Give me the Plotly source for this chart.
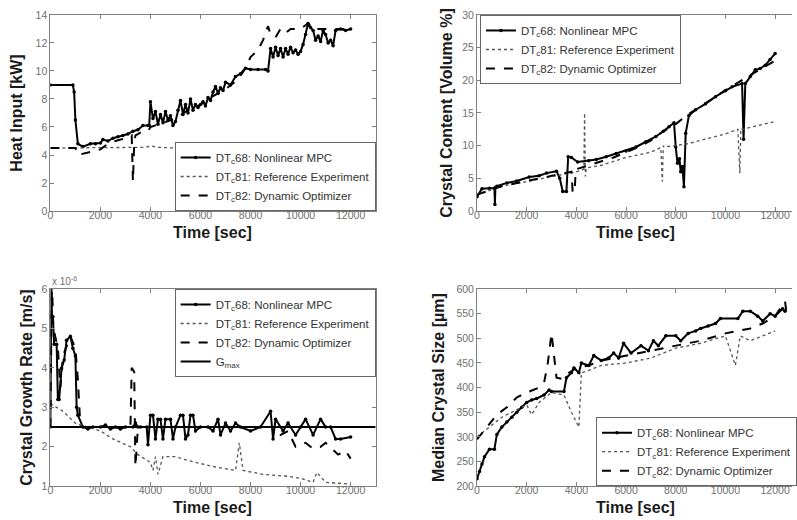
import plotly.graph_objects as go

# ---------------- data ----------------
# Heat input [kW]
hi_mpc_t = [0, 900, 950, 1000, 1100, 1300, 1600, 1800, 2000, 2100, 2300, 2500, 2700, 2900, 3100, 3300, 3500, 3700, 3900,
            3950, 4000, 4100, 4200, 4300, 4400, 4500, 4600, 4700, 4800, 4900, 5000, 5100, 5200, 5300, 5400, 5500, 5600,
            5700, 5800, 5900, 6000, 6100, 6200, 6300, 6400, 6500, 6600, 6700, 6800, 6900, 7000, 7200, 7400, 7600, 7800,
            8000, 8300, 8600, 8700, 8800, 8900, 9000, 9100, 9200, 9300, 9400, 9500, 9600, 9700, 9800, 9900, 10000,
            10100, 10200, 10300, 10400, 10500, 10600, 10700, 10800, 10900, 11000, 11100, 11200, 11300, 11400, 11600,
            11800, 12000]
hi_mpc_v = [9.0, 9.0, 8.5, 6.5, 4.8, 4.6, 4.8, 4.8, 4.85, 5.1, 5.0, 5.2, 5.3, 5.4, 5.5, 5.7, 5.8, 6.1, 6.1,
            6.1, 7.8, 6.6, 7.1, 6.2, 6.9, 6.3, 7.1, 6.5, 6.8, 6.1, 6.4, 7.2, 7.9, 6.9, 7.6, 7.0, 8.0,
            7.2, 7.6, 7.4, 7.6, 7.8, 7.5, 8.1, 7.9, 8.5, 8.9, 8.4, 8.8, 8.6, 9.2, 9.0, 9.6, 9.8, 10.2,
            10.1, 10.1, 10.1, 10.0, 11.6, 11.0, 11.7, 11.1, 11.6, 11.0, 11.6, 11.2, 11.7, 11.3, 11.5, 11.2, 11.4,
            11.9, 12.6, 13.4, 13.1, 12.9, 12.2, 12.5, 12.1, 12.9, 12.6, 12.0, 12.2, 11.8, 12.9, 13.0,
            12.9, 13.0]
hi_ref_t = [0, 1000, 2000, 3000, 3800, 4000, 4300, 5000, 6000, 7000, 8000, 9000, 10000, 11000, 12000]
hi_ref_v = [4.5, 4.5, 4.5, 4.5, 4.55, 4.65, 4.55, 4.5, 4.5, 4.5, 4.5, 4.5, 4.5, 4.5, 4.5]
hi_dyn_t = [0, 1000, 1100, 1500, 2000, 2300, 2600, 3000, 3250, 3300, 3350, 3400, 3600, 3900, 4000, 4500, 5000, 5500,
            6000, 6500, 7000, 7500, 7800, 8000, 8300, 8500, 8700, 8800, 9000, 9200, 9400, 9600, 10000, 10300, 10500,
            11000, 12000]
hi_dyn_v = [4.5, 4.5, 4.0, 4.2, 4.4, 4.8, 5.0, 5.2, 5.4, 2.1, 4.8, 5.4, 5.6, 5.7, 6.0, 6.3, 6.6, 7.2,
            7.6, 8.2, 8.7, 9.4, 10.2, 11.0, 11.5, 12.2, 13.2, 12.6, 12.4, 13.0, 12.7, 13.0, 13.0, 13.4, 13.0,
            13.0, 13.0]

# Crystal content [Volume %]
cc_mpc_t = [0, 200, 500, 700, 720, 740, 800, 1200, 1600, 2100, 2500, 2800, 3200, 3330, 3450, 3600, 3670, 3800, 4050,
            4500, 4800, 5200, 5600, 6000, 6400, 6800, 7200, 7500, 7730, 7930, 8000, 8070, 8150, 8200, 8270, 8330,
            8400, 8530, 8800, 9200, 9600, 10000, 10270, 10670, 10730, 10800, 11000, 11200, 11400, 11600, 11800, 12000]
cc_mpc_v = [2.2, 3.4, 3.5, 3.5, 1.0, 3.6, 3.8, 4.3, 4.6, 5.2, 5.4, 5.8, 6.1, 5.0, 3.0, 3.0, 8.3, 8.2, 7.5,
            7.7, 7.9, 8.3, 8.8, 9.2, 9.8, 10.6, 11.4, 12.2, 12.9, 13.5, 9.8, 7.3, 8.0, 6.0, 6.8, 3.7,
            11.9, 14.6, 15.5, 16.4, 17.5, 18.4, 19.0, 19.5, 11.0, 19.5, 20.6, 21.6, 21.8, 22.3, 23.2, 24.1]
cc_ref_t = [0, 1000, 2000, 3000, 4000, 4300, 4330, 4360, 4400, 5000, 6000, 7000, 7400, 7460, 7500, 7560, 8000, 8500,
            9000, 10000, 10500, 10580, 10620, 10680, 11000, 12000]
cc_ref_v = [2.5, 3.8, 4.5, 5.3, 6.0, 6.4, 15.0, 5.3, 6.6, 7.0, 8.2, 9.0, 9.7, 4.5, 10.0, 9.8, 10.0, 10.3,
            10.8, 11.8, 12.5, 5.8, 12.6, 12.5, 12.8, 13.7]
cc_dyn_t = [0, 1000, 2000, 3000, 3500, 3800, 3850, 3930, 3970, 4000, 4500, 5000, 5500, 6000, 6500, 7000, 7500, 8000,
            8500, 9000, 10000, 11000, 12000]
cc_dyn_v = [2.5, 3.8, 4.6, 5.4, 5.8, 6.0, 3.0, 2.8, 6.2, 6.4, 7.0, 7.6, 8.2, 9.0, 9.8, 10.8, 12.2, 13.3,
            14.8, 16.0, 18.5, 20.8, 23.0]

# Crystal growth rate [m/s] (x 1e-6)
gr_mpc_t = [0, 40, 60, 100, 150, 250, 300, 350, 450, 550, 650, 800, 900, 1000, 1050, 1100, 1300, 1500, 1700, 2000,
            2200, 2400, 2600, 2800, 3000, 3300, 3400, 3500, 3600, 3850, 3900, 4000, 4100, 4200, 4300, 4400, 4500,
            4600, 4800, 4900, 5000, 5200, 5300, 5400, 5500, 5600, 5700, 5800, 6000, 6300, 6500, 6700, 6800, 7000,
            7200, 7400, 7600, 8000, 8400, 8800, 8900, 9000, 9300, 9500, 9800, 10000, 10200, 10500, 10800, 11000,
            11200, 11400, 11600, 12000]
gr_mpc_v = [2.5, 6.2, 5.3, 5.3, 4.6, 4.6, 3.2, 3.2, 4.0, 4.2, 4.7, 4.8, 4.5, 4.3, 3.0, 2.8, 2.5, 2.45, 2.5, 2.5,
            2.55, 2.45, 2.5, 2.45, 2.5, 2.5, 2.6, 2.5, 2.5, 2.5, 2.05, 2.8, 2.8, 2.2, 2.7, 2.7, 2.2,
            2.7, 2.7, 2.2, 2.5, 2.8, 2.8, 2.2, 2.3, 2.8, 2.8, 2.4, 2.5, 2.5, 2.4, 2.7, 2.3, 2.6,
            2.4, 2.6, 2.5, 2.4, 2.5, 2.9, 2.2, 2.7, 2.4, 2.6, 2.3, 2.5, 2.7, 2.3, 2.7, 2.5,
            2.5, 2.2, 2.2, 2.25]
gr_ref_t = [0, 500, 1000, 2000, 2500, 3200, 3500, 4000, 4100, 4200, 4300, 4500, 5000, 5500, 6500, 7400, 7550, 7700,
            8500, 9500, 10000, 10500, 10650, 11000, 12000]
gr_ref_v = [3.1, 2.9, 2.6, 2.4, 2.2, 2.0, 1.8, 1.6, 1.4, 1.75, 1.3, 1.75, 1.75, 1.65, 1.5, 1.4, 2.1, 1.4,
            1.3, 1.25, 1.2, 1.1, 1.35, 1.1, 1.05]
gr_dyn_t = [0, 60, 120, 300, 400, 500, 800, 1000, 1100, 1200, 1500, 2000, 2500, 3200, 3250, 3350, 3400, 3500, 4000,
            5000, 6000, 7000, 8000, 9000, 9200, 9500, 9800, 10200, 10500, 10800, 11000, 11500, 11800, 12000]
gr_dyn_v = [2.5, 6.2, 5.0, 4.5, 3.5, 4.3, 4.8, 4.5, 3.7, 2.5, 2.5, 2.5, 2.5, 2.5, 4.0, 3.9, 1.5, 2.5, 2.5,
            2.5, 2.5, 2.5, 2.5, 2.5, 2.3, 2.4, 2.0, 2.1, 1.95, 2.0, 2.1, 1.8, 1.9, 1.7]
gmax_t = [0, 13000]
gmax_v = [2.5, 2.5]

# Median crystal size [um]
ms_mpc_t = [0, 100, 200, 300, 500, 700, 800, 1000, 1200, 1400, 1600, 1800, 2000, 2200, 2400, 2700, 2900, 3000, 3500,
            3600, 3800, 3900, 4100, 4200, 4500, 4700, 5000, 5300, 5500, 5700, 5900, 6200, 6600, 6900, 7100, 7300,
            7600, 8000, 8200, 8500, 8800, 9000, 9300, 9600, 9800, 10500, 10700, 11000, 11300, 11500, 11800, 12000,
            12300, 12400]
ms_mpc_v = [215, 230, 245, 260, 275, 275, 305, 320, 330, 340, 350, 360, 370, 375, 378, 385, 395, 392, 392,
            420, 430, 440, 430, 450, 445, 465, 455, 460, 470, 460, 490, 470, 485, 475, 495, 485,
            505, 505, 495, 510, 515, 520, 525, 530, 540, 540, 555, 555, 545, 535, 550, 545,
            560, 555]
ms_ref_t = [0, 1000, 2000, 2200, 2500, 3000, 3500, 3800, 4100, 4200, 4500, 5000, 6000, 7000, 7500, 8000, 9000, 10000,
            10400, 10600, 11000, 12000]
ms_ref_v = [300, 340, 365, 345, 370, 390, 385, 350, 320, 430, 435, 445, 450, 460, 470, 480, 490, 505,
            445, 505, 495, 515]
ms_dyn_t = [0, 400, 800, 1200, 1600, 2000, 2500, 2700, 2850, 3000, 3200, 3400, 3700, 4000, 4500, 5000, 6000, 7000,
            8000, 9000, 10000, 11000, 11500, 12000, 12400, 12450]
ms_dyn_v = [295, 320, 345, 360, 380, 390, 400, 410, 450, 510, 420, 418, 430, 440, 445, 455, 465, 475,
            485, 495, 510, 520, 530, 545, 575, 555]

names = ["DT<sub>c</sub>68: Nonlinear MPC", "DT<sub>c</sub>81: Reference Experiment",
         "DT<sub>c</sub>82: Dynamic Optimizer", "G<sub>max</sub>"]

# ---------------- figure ----------------
FONT = "Liberation Sans, Arial, sans-serif"
fig = go.Figure()

panels = [
    ("x", "y", "legend", [(hi_mpc_t, hi_mpc_v), (hi_ref_t, hi_ref_v), (hi_dyn_t, hi_dyn_v)]),
    ("x2", "y2", "legend2", [(cc_mpc_t, cc_mpc_v), (cc_ref_t, cc_ref_v), (cc_dyn_t, cc_dyn_v)]),
    ("x3", "y3", "legend3", [(gr_mpc_t, gr_mpc_v), (gr_ref_t, gr_ref_v), (gr_dyn_t, gr_dyn_v), (gmax_t, gmax_v)]),
    ("x4", "y4", "legend4", [(ms_mpc_t, ms_mpc_v), (ms_ref_t, ms_ref_v), (ms_dyn_t, ms_dyn_v)]),
]
for xa, ya, lg, series in panels:
    for i, (t, v) in enumerate(series):
        if i == 0:
            kw = dict(mode="lines+markers", line=dict(color="black", width=2),
                      marker=dict(size=3.5, color="black"))
        elif i == 1:
            kw = dict(mode="lines", line=dict(color="#555555", width=1.3, dash="dot"))
        elif i == 2:
            kw = dict(mode="lines", line=dict(color="black", width=2, dash="dash"))
        else:
            kw = dict(mode="lines", line=dict(color="black", width=2))
        fig.add_trace(go.Scatter(x=t, y=v, name=names[i], xaxis=xa, yaxis=ya, legend=lg, **kw))

xL = [0.0636, 0.4743]
xR = [0.6023, 1.0]
yT = [0.5942, 0.9712]
yB = [0.065, 0.4442]

tickfont = dict(family=FONT, size=10.5, color="#707070")
titlefont = dict(family=FONT, size=16, color="#1a1a1a", weight="bold")

def xaxis(domain, anchor, rng):
    return dict(domain=domain, anchor=anchor, range=rng, tickmode="array",
                tickvals=[0, 2000, 4000, 6000, 8000, 10000, 12000],
                ticktext=["0", "2000", "4000", "6000", "8000", "10000", "12000"],
                ticks="inside", ticklen=4, ticklabelstandoff=-6,
                tickcolor="#808080", showline=True, linecolor="#808080", linewidth=1, mirror="ticks",
                showgrid=False, zeroline=False, tickfont=tickfont, automargin=False)

def yaxis(domain, anchor, rng, dtick, title, mirror, standoff):
    return dict(domain=domain, anchor=anchor, range=rng, dtick=dtick, ticks="inside", ticklen=4,
                tickcolor="#808080", showline=True, linecolor="#808080", linewidth=1, mirror=mirror,
                showgrid=False, zeroline=False, tickfont=tickfont, automargin=False,
                title=dict(text=title, font=titlefont, standoff=standoff))

legbase = dict(font=dict(family=FONT, size=11.5, color="#333333"), bgcolor="white", bordercolor="#666666",
               borderwidth=1, tracegroupgap=0, itemwidth=30)

def xtitle(xc, yc):
    return dict(text="Time [sec]", xref="paper", yref="paper", x=xc, y=yc, xanchor="center", yanchor="middle",
                showarrow=False, font=titlefont)

fig.update_layout(
    width=797, height=520, margin=dict(l=0, r=0, t=0, b=0),
    paper_bgcolor="white", plot_bgcolor="white", font=dict(family=FONT),
    xaxis=xaxis(xL, "y", [0, 13000]),
    yaxis=yaxis(yT, "x", [0, 14], 2, "Heat Input [kW]", "ticks", 8),
    xaxis2=xaxis(xR, "y2", [0, 12680]),
    yaxis2=yaxis(yT, "x2", [0, 30], 5, "Crystal Content [Volume %]", False, 5),
    xaxis3=xaxis(xL, "y3", [0, 13000]),
    yaxis3=yaxis(yB, "x3", [1, 6], 1, "Crystal Growth Rate [m/s]", "ticks", 4),
    xaxis4=xaxis(xR, "y4", [0, 12680]),
    yaxis4=yaxis(yB, "x4", [200, 600], 50, "Median Crystal Size [µm]", False, 7),
    legend=dict(x=xL[1], xanchor="right", y=yT[0], yanchor="bottom", **legbase),
    legend2=dict(x=0.606, xanchor="left", y=yT[1], yanchor="top", **legbase),
    legend3=dict(x=xL[1], xanchor="right", y=yB[1], yanchor="top", **legbase),
    legend4=dict(x=0.7528, xanchor="left", y=yB[0], yanchor="bottom", **legbase),
    showlegend=True,
    annotations=[
        dict(text="x 10<sup>-6</sup>", xref="paper", yref="paper", x=xL[0], y=yB[1],
             xanchor="left", yanchor="bottom", showarrow=False,
             font=dict(family=FONT, size=10, color="#707070")),
        xtitle(214 / 797, 1 - 233 / 520),
        xtitle(640 / 797, 1 - 233 / 520),
        xtitle(214 / 797, 1 - 507 / 520),
        xtitle(640 / 797, 1 - 507 / 520),
    ],
)

fig.write_html("out.html", config={"displayModeBar": False},
               post_script="document.body.style.margin='0';")
